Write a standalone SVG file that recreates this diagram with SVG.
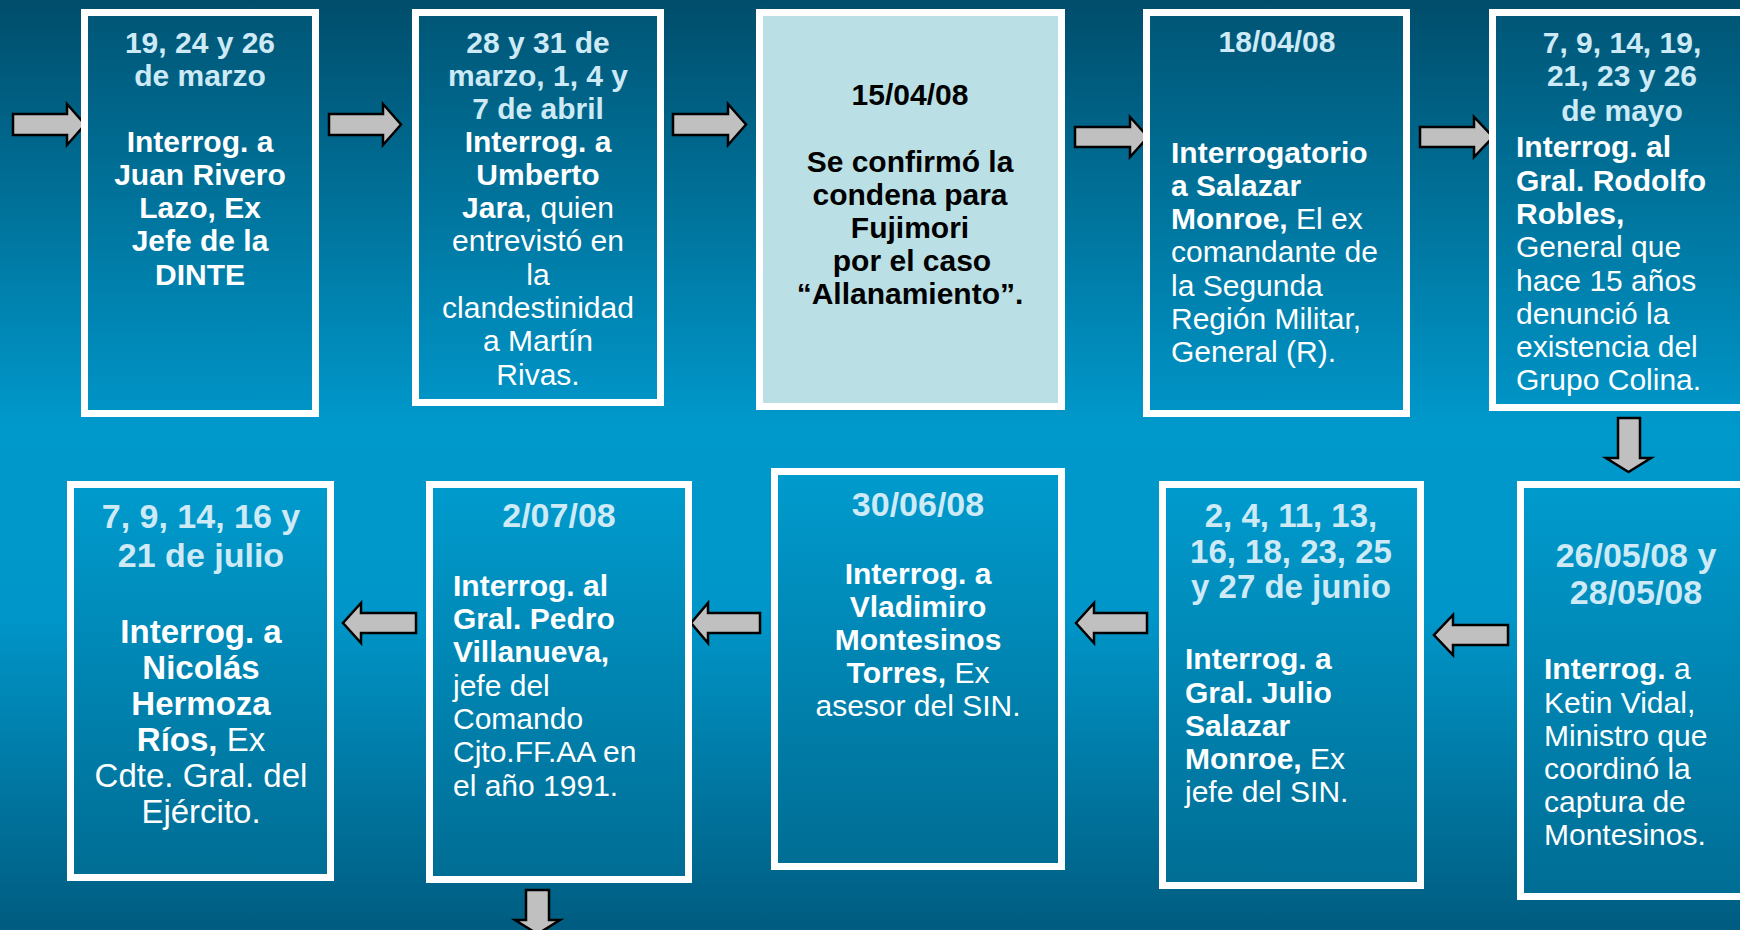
<svg xmlns="http://www.w3.org/2000/svg" width="1740" height="930" viewBox="0 0 1740 930">
<defs>
<linearGradient id="bg" x1="0" y1="0" x2="0" y2="930" gradientUnits="userSpaceOnUse">
<stop offset="0" stop-color="#004d6b"/>
<stop offset="0.46" stop-color="#0099cc"/>
<stop offset="0.66" stop-color="#0096c9"/>
<stop offset="1" stop-color="#005c80"/>
</linearGradient>
<linearGradient id="gTop" x1="0" y1="0" x2="0" y2="1">
<stop offset="0" stop-color="#005676"/>
<stop offset="1" stop-color="#0094c6"/>
</linearGradient>
<linearGradient id="gBot" x1="0" y1="0" x2="0" y2="1">
<stop offset="0" stop-color="#009bce"/>
<stop offset="1" stop-color="#006d94"/>
</linearGradient>
<style>
.box{stroke:#ffffff;stroke-width:7}
.top{fill:url(#gTop)}
.bot{fill:url(#gBot)}
.arr{fill:#c0c0c0;stroke:#000000;stroke-width:2.5;stroke-linejoin:miter}
text{font-family:'Liberation Sans',Arial,sans-serif;font-size:30px}
.c{text-anchor:middle}
.l{text-anchor:start}
.d{font-weight:bold;fill:#cdeaf6}
.b{font-weight:bold;fill:#ffffff}
.r{font-weight:normal;fill:#ffffff}
.k{font-weight:bold;fill:#000000}
.big{font-size:34px}
.m33{font-size:33px}
</style>
</defs>
<rect x="0" y="0" width="1740" height="930" fill="url(#bg)"/>

<g id="connectors">
<polygon class="arr" points="13,114 67,114 67,104 85,124.5 67,145 67,135 13,135"/>
<polygon class="arr" points="329,114 383,114 383,104 401,124.5 383,145 383,135 329,135"/>
<polygon class="arr" points="673,114 728,114 728,104 746,124.5 728,145 728,135 673,135"/>
<polygon class="arr" points="1075,127 1130,127 1130,117 1148,137 1130,157 1130,147 1075,147"/>
<polygon class="arr" points="1420,127 1474,127 1474,117 1493,137 1474,157 1474,147 1420,147"/>
<polygon class="arr" points="1618,418 1640,418 1640,458 1651,458 1628.5,472 1606,458 1618,458"/>
<polygon class="arr" points="1508,625 1453,625 1453,615 1434,635 1453,655 1453,645 1508,645"/>
<polygon class="arr" points="1147,613 1094,613 1094,603 1076,623 1094,643 1094,633 1147,633"/>
<polygon class="arr" points="760,613 708,613 708,603 691,623 708,643 708,633 760,633"/>
<polygon class="arr" points="416,613 361,613 361,603 343,623 361,643 361,633 416,633"/>
<polygon class="arr" points="526,890 549,890 549,920 560,920 537.5,934 515,920 526,920"/>
</g>

<g id="n1">
<rect class="box top" x="84.5" y="12.5" width="231" height="401"/>
<text class="c d" x="200" y="53">19, 24 y 26</text>
<text class="c d" x="200" y="86">de marzo</text>
<text class="c b" x="200" y="152">Interrog. a</text>
<text class="c b" x="200" y="185">Juan Rivero</text>
<text class="c b" x="200" y="218">Lazo, Ex</text>
<text class="c b" x="200" y="251">Jefe de la</text>
<text class="c b" x="200" y="285">DINTE</text>
</g>

<g id="n2">
<rect class="box top" x="415.5" y="12.5" width="245" height="390"/>
<text class="c d" x="538" y="53">28 y 31 de</text>
<text class="c d" x="538" y="86">marzo, 1, 4 y</text>
<text class="c d" x="538" y="119">7 de abril</text>
<text class="c b" x="538" y="152">Interrog. a</text>
<text class="c b" x="538" y="185">Umberto</text>
<text class="c" x="538" y="218"><tspan class="b">Jara</tspan><tspan class="r">, quien</tspan></text>
<text class="c r" x="538" y="251">entrevistó en</text>
<text class="c r" x="538" y="285">la</text>
<text class="c r" x="538" y="318">clandestinidad</text>
<text class="c r" x="538" y="351">a Martín</text>
<text class="c r" x="538" y="385">Rivas.</text>
</g>

<g id="n3">
<rect class="box" fill="#badfe4" x="759.5" y="12.5" width="302" height="394"/>
<text class="c k" x="910" y="105">15/04/08</text>
<text class="c k" x="910" y="172">Se confirmó la</text>
<text class="c k" x="910" y="205">condena para</text>
<text class="c k" x="910" y="238">Fujimori</text>
<text class="c k" x="912" y="271">por el caso</text>
<text class="c k" x="910" y="304">“Allanamiento”.</text>
</g>

<g id="n4">
<rect class="box top" x="1146.5" y="12.5" width="260" height="401"/>
<text class="c d" x="1277" y="52">18/04/08</text>
<text class="l b" x="1171" y="163">Interrogatorio</text>
<text class="l b" x="1171" y="196">a Salazar</text>
<text class="l" x="1171" y="229"><tspan class="b">Monroe,</tspan><tspan class="r"> El ex</tspan></text>
<text class="l r" x="1171" y="262">comandante de</text>
<text class="l r" x="1171" y="296">la Segunda</text>
<text class="l r" x="1171" y="329">Región Militar,</text>
<text class="l r" x="1171" y="362">General (R).</text>
</g>

<g id="n5">
<rect class="box top" x="1492.5" y="12.5" width="262" height="395"/>
<text class="c d" x="1622" y="53">7, 9, 14, 19,</text>
<text class="c d" x="1622" y="86">21, 23 y 26</text>
<text class="c d" x="1622" y="121">de mayo</text>
<text class="l b" x="1516" y="157">Interrog. al</text>
<text class="l b" x="1516" y="191">Gral. Rodolfo</text>
<text class="l b" x="1516" y="224">Robles,</text>
<text class="l r" x="1516" y="257">General que</text>
<text class="l r" x="1516" y="291">hace 15 años</text>
<text class="l r" x="1516" y="324">denunció la</text>
<text class="l r" x="1516" y="357">existencia del</text>
<text class="l r" x="1516" y="390">Grupo Colina.</text>
</g>

<g id="n6">
<rect class="box bot" x="1520.5" y="484.5" width="240" height="412"/>
<text class="c d big" x="1636" y="567">26/05/08 y</text>
<text class="c d big" x="1636" y="604">28/05/08</text>
<text class="l" x="1544" y="679"><tspan class="b">Interrog.</tspan><tspan class="r"> a</tspan></text>
<text class="l r" x="1544" y="713">Ketin Vidal,</text>
<text class="l r" x="1544" y="746">Ministro que</text>
<text class="l r" x="1544" y="779">coordinó la</text>
<text class="l r" x="1544" y="812">captura de</text>
<text class="l r" x="1544" y="845">Montesinos.</text>
</g>

<g id="n7">
<rect class="box bot" x="1162.5" y="484.5" width="258" height="401"/>
<text class="c d m33" x="1291" y="527">2, 4, 11, 13,</text>
<text class="c d m33" x="1291" y="563">16, 18, 23, 25</text>
<text class="c d m33" x="1291" y="598">y 27 de junio</text>
<text class="l b" x="1185" y="669">Interrog. a</text>
<text class="l b" x="1185" y="703">Gral. Julio</text>
<text class="l b" x="1185" y="736">Salazar</text>
<text class="l" x="1185" y="769"><tspan class="b">Monroe,</tspan><tspan class="r"> Ex</tspan></text>
<text class="l r" x="1185" y="802">jefe del SIN.</text>
</g>

<g id="n8">
<rect class="box bot" x="774.5" y="471.5" width="287" height="395"/>
<text class="c d big" x="918" y="516">30/06/08</text>
<text class="c b" x="918" y="584">Interrog. a</text>
<text class="c b" x="918" y="617">Vladimiro</text>
<text class="c b" x="918" y="650">Montesinos</text>
<text class="c" x="918" y="683"><tspan class="b">Torres,</tspan><tspan class="r"> Ex</tspan></text>
<text class="c r" x="918" y="716">asesor del SIN.</text>
</g>

<g id="n9">
<rect class="box bot" x="429.5" y="484.5" width="259" height="395"/>
<text class="c d big" x="559" y="527">2/07/08</text>
<text class="l b" x="453" y="596">Interrog. al</text>
<text class="l b" x="453" y="629">Gral. Pedro</text>
<text class="l b" x="453" y="662">Villanueva,</text>
<text class="l r" x="453" y="696">jefe del</text>
<text class="l r" x="453" y="729">Comando</text>
<text class="l r" x="453" y="762">Cjto.FF.AA en</text>
<text class="l r" x="453" y="796">el año 1991.</text>
</g>

<g id="n10">
<rect class="box bot" x="70.5" y="484.5" width="260" height="393"/>
<text class="c d big" x="201" y="528">7, 9, 14, 16 y</text>
<text class="c d big" x="201" y="567">21 de julio</text>
<text class="c b m33" x="201" y="643">Interrog. a</text>
<text class="c b m33" x="201" y="679">Nicolás</text>
<text class="c b m33" x="201" y="715">Hermoza</text>
<text class="c m33" x="201" y="751"><tspan class="b">Ríos,</tspan><tspan class="r"> Ex</tspan></text>
<text class="c r m33" x="201" y="787">Cdte. Gral. del</text>
<text class="c r m33" x="201" y="823">Ejército.</text>
</g>
</svg>
